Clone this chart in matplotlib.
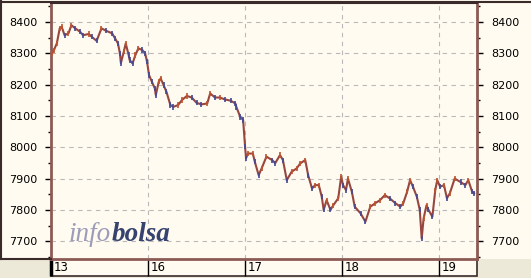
"""
Intraday index chart, sessions 13-19, infobolsa style
"""

import numpy as np
import matplotlib
matplotlib.use("Agg")
import matplotlib.pyplot as plt
from matplotlib.patches import Rectangle
from matplotlib.ticker import MultipleLocator


# session labels, one per trading day
days = ["13", "16", "17", "18", "19"]

# position in sessions (0 = open of day 13) and index level
t_13 = [0.01, 0.03, 0.06, 0.09, 0.11, 0.14, 0.18, 0.21, 0.25, 0.30, 0.33, 0.39, 0.42, 0.47,
        0.52, 0.57, 0.63, 0.66, 0.69, 0.71, 0.72, 0.75, 0.77, 0.80, 0.81, 0.84, 0.87,
        0.90, 0.94, 0.97, 0.99]
v_13 = [8300, 8310, 8332, 8380, 8385, 8358, 8364, 8390, 8380, 8369, 8358, 8362, 8353, 8340,
        8380, 8372, 8364, 8348, 8332, 8300, 8269, 8305, 8332, 8295, 8279, 8268, 8295,
        8316, 8311, 8300, 8273]

t_16 = [1.01, 1.04, 1.07, 1.08, 1.11, 1.13, 1.16, 1.19, 1.23, 1.26, 1.31, 1.35, 1.40,
        1.45, 1.50, 1.55, 1.61, 1.64, 1.69, 1.74, 1.79, 1.85, 1.90, 1.91, 1.95, 1.98]
v_16 = [8231, 8209, 8188, 8167, 8209, 8220, 8199, 8177, 8135, 8129, 8135, 8151, 8164,
        8159, 8142, 8137, 8140, 8172, 8159, 8159, 8153, 8149, 8140, 8129, 8097, 8087]

t_17 = [2.00, 2.01, 2.03, 2.08, 2.10, 2.14, 2.17, 2.22, 2.28, 2.31, 2.36, 2.39, 2.43,
        2.48, 2.53, 2.57, 2.62, 2.65, 2.69, 2.72, 2.76, 2.79, 2.81, 2.84, 2.88, 2.91,
        2.96, 2.99]
v_17 = [8002, 7965, 7980, 7980, 7954, 7911, 7932, 7970, 7959, 7949, 7975, 7959, 7895,
        7922, 7932, 7949, 7959, 7911, 7868, 7879, 7879, 7842, 7800, 7831, 7800, 7815,
        7837, 7906]

t_18 = [3.01, 3.04, 3.06, 3.10, 3.13, 3.19, 3.24, 3.29, 3.34, 3.39, 3.44, 3.49, 3.55,
        3.60, 3.63, 3.67, 3.70, 3.73, 3.77, 3.80, 3.82, 3.84, 3.87, 3.89, 3.93, 3.96, 3.98]
v_18 = [7879, 7863, 7900, 7858, 7810, 7789, 7762, 7810, 7821, 7831, 7847, 7837, 7821,
        7810, 7821, 7858, 7895, 7874, 7842, 7800, 7709, 7773, 7815, 7800, 7778, 7863, 7895]

t_19 = [4.01, 4.05, 4.08, 4.11, 4.16, 4.22, 4.27, 4.30, 4.34, 4.36]
v_19 = [7874, 7879, 7837, 7853, 7900, 7889, 7879, 7895, 7858, 7853]

t = np.array(t_13 + t_16 + t_17 + t_18 + t_19)
v = np.array(v_13 + v_16 + v_17 + v_18 + v_19)

CREAM = "#fffbf0"
GREY = "#ece9d8"
BROWN = "#8c5a55"
UP = "#c0542e"
DOWN = "#414a98"

fig = plt.figure(figsize=(5.31, 2.78), dpi=100, facecolor=GREY)
W, H = 531, 278

# cream panels: top part and the date strip
fig.patches.append(Rectangle((0, 1 - 259 / H), 1, 259 / H, transform=fig.transFigure,
                             facecolor=CREAM, edgecolor="none", zorder=-2))
fig.patches.append(Rectangle((51 / W, 1 - 276 / H), 426 / W, 17 / H, transform=fig.transFigure,
                             facecolor=CREAM, edgecolor="#3a2a2a", lw=1.2, zorder=-2))
# left panel frame
fig.lines.append(plt.Line2D([1 / W, 1 / W], [1 - 259 / H, 1], transform=fig.transFigure,
                            color="#3a2a2a", lw=1.5))
fig.lines.append(plt.Line2D([0, 51 / W], [1 - 259 / H, 1 - 259 / H], transform=fig.transFigure,
                            color="#3a2a2a", lw=1.5))
fig.lines.append(plt.Line2D([0, 1], [1 - 1.5 / H, 1 - 1.5 / H], transform=fig.transFigure,
                            color="#3a2a2a", lw=1.5))

ax = fig.add_axes([51 / W, 1 - 259 / H, 426 / W, 256 / H])
ax.set_facecolor(CREAM)

# price path in dark red, small bars coloured by direction
ax.plot(t, v, color="#97473f", lw=1.5, zorder=3)
pcols = np.where(np.diff(v, prepend=v[0]) >= 0, UP, DOWN)
ax.scatter(t, v, marker="|", s=14, c=pcols, linewidths=1.2, zorder=4)

ax.set_xlim(0, 4.39)
ax.set_ylim(7643, 8461)

ax.yaxis.set_major_locator(MultipleLocator(100))
ax.yaxis.set_minor_locator(MultipleLocator(50))
ax.tick_params(axis="y", which="major", direction="out", length=4, width=1, color="black",
               labelsize=8, left=True, right=True, labelleft=True, labelright=True, pad=6)
ax.tick_params(axis="y", which="minor", direction="out", length=2, width=1, color="black",
               left=True, right=True)

ax.set_xticks(range(len(days)))
ax.set_xticklabels([])
ax.tick_params(axis="x", direction="out", length=12, width=1, color="black")
ax.xaxis.get_major_ticks()[0].tick1line.set_markeredgewidth(2.5)
for i, d in enumerate(days):
    ax.text(i + 0.03, -0.008, d, transform=ax.get_xaxis_transform(), ha="left", va="top",
            fontsize=8.5, color="black")

ax.grid(True, color="#b9b9b9", linestyle=(0, (4, 4)), linewidth=0.8)
ax.set_axisbelow(True)

for s in ["left", "right", "bottom"]:
    ax.spines[s].set_color(BROWN)
    ax.spines[s].set_linewidth(2)
ax.spines["top"].set_color("#3a2a2a")
ax.spines["top"].set_linewidth(1.5)

# watermark
t1 = ax.text(0.042, 0.07, "info", transform=ax.transAxes, fontsize=19.5, style="italic",
             family="Liberation Serif", color="#9c9cba", va="baseline")
ax.annotate("bolsa", xy=(1, 0), xycoords=t1, va="bottom", fontsize=19.5, style="italic",
            weight="bold", family="Liberation Serif", color="#36426f")

fig.savefig("out.png", dpi=100, facecolor=GREY)
